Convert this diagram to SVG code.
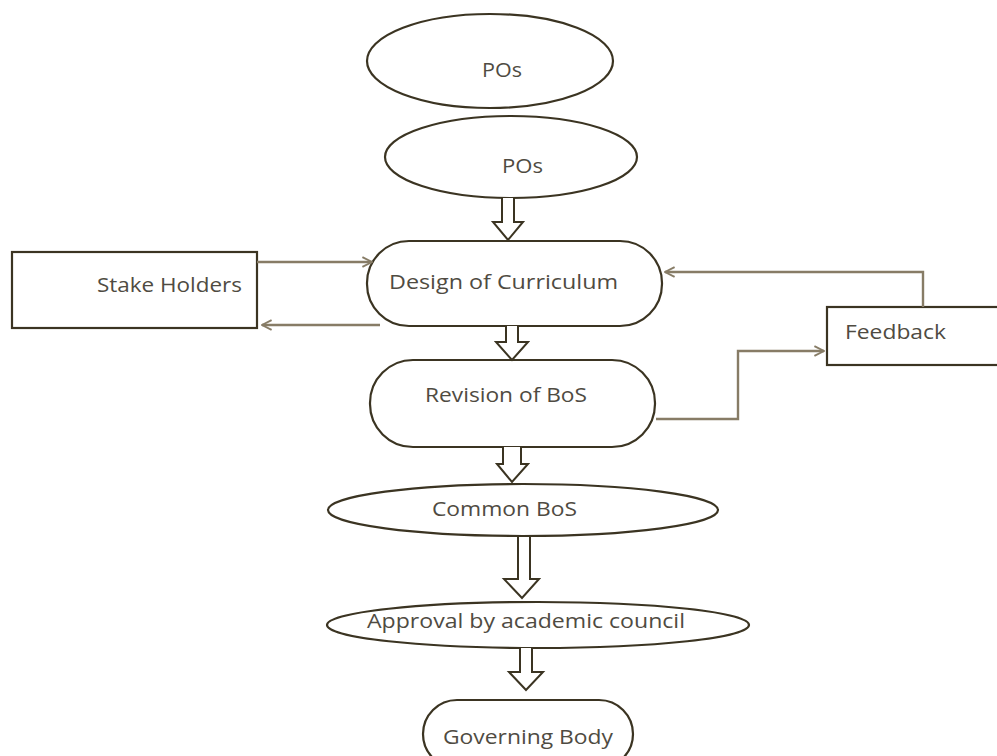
<svg xmlns="http://www.w3.org/2000/svg" width="997" height="756" viewBox="0 0 997 756">
<defs>
<style>
.node{fill:#fff;stroke:#3b3422;stroke-width:2.2}
.lbl{font-family:"Open Sans","Liberation Sans",sans-serif;font-size:19.5px;fill:#4f4b42}
.conn{fill:none;stroke:#877c66;stroke-width:2.4}
.hollow{fill:#fff;stroke:#3b3422;stroke-width:2;stroke-linejoin:miter}
</style>
<marker id="ah" viewBox="0 0 10 10" refX="9" refY="5" markerWidth="5" markerHeight="5" orient="auto" markerUnits="strokeWidth">
<path d="M1,1 L9,5 L1,9" fill="none" stroke="#877c66" stroke-width="1.6"/>
</marker>
</defs>
<rect width="997" height="756" fill="#fff"/>
<g id="pos1"><ellipse class="node" cx="490" cy="61" rx="123" ry="47"/><text class="lbl" x="482" y="77" textLength="40" lengthAdjust="spacingAndGlyphs">POs</text></g>
<g id="pos2"><ellipse class="node" cx="511" cy="157" rx="126" ry="41"/><text class="lbl" x="502" y="173" textLength="41" lengthAdjust="spacingAndGlyphs">POs</text></g>
<g id="stakeholders"><rect class="node" x="12" y="252" width="245" height="76"/><text class="lbl" x="97" y="292" textLength="145" lengthAdjust="spacingAndGlyphs">Stake Holders</text></g>
<g id="design"><rect class="node" x="367" y="241" width="295" height="85" rx="42" ry="42"/><text class="lbl" x="389" y="289" textLength="229" lengthAdjust="spacingAndGlyphs">Design of Curriculum</text></g>
<g id="feedback"><rect class="node" x="827" y="307" width="180" height="58"/><text class="lbl" x="845" y="339" textLength="101" lengthAdjust="spacingAndGlyphs">Feedback</text></g>
<g id="revision"><rect class="node" x="370" y="360" width="285" height="87" rx="43" ry="43"/><text class="lbl" x="425" y="402" textLength="162" lengthAdjust="spacingAndGlyphs">Revision of BoS</text></g>
<g id="common"><ellipse class="node" cx="523" cy="510" rx="195" ry="26"/><text class="lbl" x="432" y="516" textLength="145" lengthAdjust="spacingAndGlyphs">Common BoS</text></g>
<g id="approval"><ellipse class="node" cx="538" cy="625" rx="211" ry="23"/><text class="lbl" x="367" y="628" textLength="318" lengthAdjust="spacingAndGlyphs">Approval by academic council</text></g>
<g id="governing"><rect class="node" x="423" y="700" width="210" height="68" rx="34" ry="34"/><text class="lbl" x="443" y="744" textLength="170" lengthAdjust="spacingAndGlyphs">Governing Body</text></g>
<g id="connectors">
<path class="hollow" d="M502,198 V222 H493 L508,240 L523,222 H514 V198"/>
<path class="hollow" d="M506,326 V342 H496 L512,360 L528,342 H518 V326"/>
<path class="hollow" d="M503,447 V464 H497 L512,482 L528,464 H521 V447"/>
<path class="hollow" d="M518,537 V579 H504 L522,598 L539,579 H530 V537"/>
<path class="hollow" d="M520,648 V672 H509 L526,690 L543,672 H532 V648"/>
<path class="conn" d="M257,262 H372" marker-end="url(#ah)"/>
<path class="conn" d="M380,325 H262" marker-end="url(#ah)"/>
<path class="conn" d="M923,307 V272 H665" marker-end="url(#ah)"/>
<path class="conn" d="M656,419 H738 V351 H824" marker-end="url(#ah)"/>
</g>
</svg>
